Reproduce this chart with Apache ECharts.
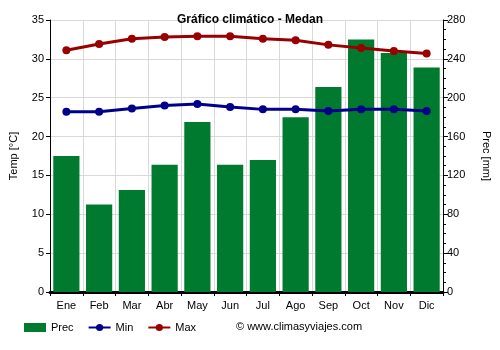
<!DOCTYPE html>
<html>
<head>
<meta charset="utf-8">
<script src="https://cdn.jsdelivr.net/npm/echarts@6/dist/echarts.min.js"></script>
<style>
  html, body { margin: 0; padding: 0; background: #fff; }
  #chart { width: 500px; height: 350px; }
</style>
</head>
<body>
<div id="chart"></div>
<script>
// Monthly climate data for Medan
const months = ['Ene', 'Feb', 'Mar', 'Abr', 'May', 'Jun', 'Jul', 'Ago', 'Sep', 'Oct', 'Nov', 'Dic'];
const precMm = [140, 90, 105, 131, 175, 131, 136, 180, 211, 260, 246, 231];
const tempMin = [23.2, 23.2, 23.6, 24.0, 24.2, 23.8, 23.5, 23.5, 23.3, 23.5, 23.5, 23.3];
const tempMax = [31.1, 31.9, 32.6, 32.8, 32.9, 32.9, 32.6, 32.4, 31.8, 31.4, 31.0, 30.7];

const FONT = 'Arial, "Liberation Sans", sans-serif';
const chart = echarts.init(document.getElementById('chart'), null, { renderer: 'canvas' });

chart.setOption({
  animation: false,
  textStyle: { fontFamily: FONT },
  title: {
    text: 'Gráfico climático - Medan',
    left: 'center',
    top: 9,
    textStyle: { fontFamily: FONT, fontSize: 12, fontWeight: 'bold', color: '#000' }
  },
  grid: { left: 49, right: 54, top: 20, bottom: 58, containLabel: false },
  legend: {
    left: 19,
    bottom: 12,
    itemWidth: 22,
    itemHeight: 9,
    itemGap: 14,
    textStyle: { fontFamily: FONT, fontSize: 11, color: '#000' },
    data: [
      { name: 'Prec', icon: 'rect' },
      { name: 'Min' },
      { name: 'Max' }
    ]
  },
  graphic: [{
    type: 'text',
    left: 236,
    bottom: 18,
    style: { text: '© www.climasyviajes.com', font: '11px ' + FONT, fill: '#000' }
  }],
  xAxis: {
    type: 'category',
    data: months,
    axisLine: { lineStyle: { color: '#000', width: 3 } },
    axisTick: { show: true, alignWithLabel: false, length: 4, lineStyle: { color: '#000', width: 1 } },
    axisLabel: { color: '#000', fontSize: 11, margin: 8 },
    splitLine: { show: true, lineStyle: { color: '#d9d9d9', width: 1 } }
  },
  yAxis: [
    {
      type: 'value',
      min: 0, max: 35, interval: 5,
      name: 'Temp [°C]',
      nameLocation: 'middle',
      nameGap: 31,
      nameTextStyle: { color: '#000', fontSize: 11, fontFamily: FONT },
      axisLine: { show: true, lineStyle: { color: '#000', width: 1 } },
      axisTick: { show: true, length: 4, lineStyle: { color: '#000' } },
      axisLabel: { color: '#000', fontSize: 11, margin: 6 },
      splitLine: { show: true, lineStyle: { color: '#d9d9d9', width: 1 } }
    },
    {
      type: 'value',
      position: 'right',
      min: 0, max: 280, interval: 40,
      name: 'Prec [mm]',
      nameLocation: 'middle',
      nameRotate: -90,
      nameGap: 38,
      nameTextStyle: { color: '#000', fontSize: 11, fontFamily: FONT },
      axisLine: { show: true, lineStyle: { color: '#000', width: 1 } },
      axisTick: { show: true, length: 5, lineStyle: { color: '#000' } },
      minorTick: { show: true, splitNumber: 4, length: 3, lineStyle: { color: '#000' } },
      axisLabel: { color: '#000', fontSize: 11, margin: 4 },
      splitLine: { show: false }
    }
  ],
  series: [
    {
      name: 'Prec',
      type: 'bar',
      yAxisIndex: 1,
      data: precMm,
      barWidth: '80%',
      itemStyle: { color: '#007a2f' },
      z: 1
    },
    {
      name: 'Min',
      type: 'line',
      yAxisIndex: 0,
      data: tempMin,
      symbol: 'circle',
      symbolSize: 8,
      lineStyle: { color: '#00008b', width: 3 },
      itemStyle: { color: '#00008b' },
      z: 3
    },
    {
      name: 'Max',
      type: 'line',
      yAxisIndex: 0,
      data: tempMax,
      symbol: 'circle',
      symbolSize: 8,
      lineStyle: { color: '#990000', width: 3 },
      itemStyle: { color: '#990000' },
      z: 3
    }
  ]
});
</script>
</body>
</html>
